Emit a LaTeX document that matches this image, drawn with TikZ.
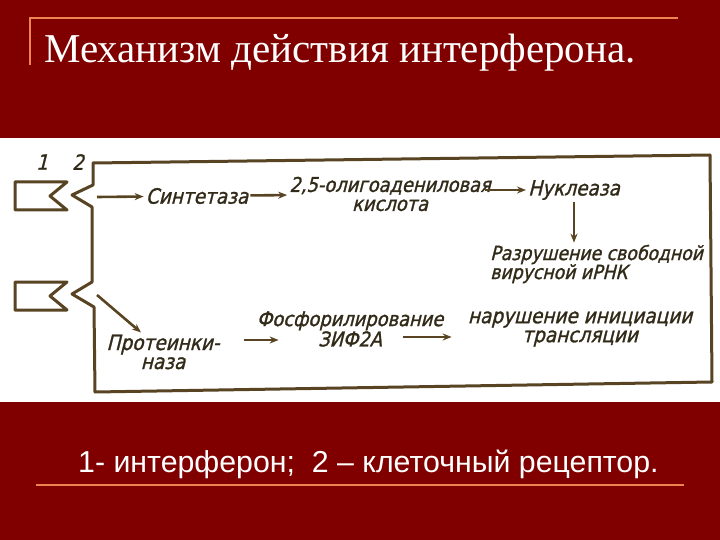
\documentclass[tikz,border=0pt]{standalone}
\usepackage{fontspec}
\setmainfont{Liberation Serif}
\newfontfamily\legendfont{Liberation Sans}
\newfontfamily\schemefont[FakeStretch=0.88,FakeSlant=0.25,FakeBold=1.2]{DejaVu Sans}
\usetikzlibrary{arrows.meta}

\definecolor{slidered}{RGB}{128,0,0}
\definecolor{rulecol}{RGB}{238,132,82}
\definecolor{inkline}{RGB}{88,68,34}
\definecolor{inktext}{RGB}{50,42,24}

\tikzset{
	lbl/.style={font=\schemefont\fontsize{21}{19}\selectfont, text=inktext, inner sep=2pt, align=center},
	arr/.style={-{Stealth[length=9pt,width=7pt]}, line width=2.6pt, draw=inkline},
	membrane/.style={line width=3pt, draw=inkline, line join=round},
}

\begin{document}
\begin{tikzpicture}[x=1pt,y=-1pt]
		\useasboundingbox (0,0) rectangle (720,540);
		\fill[slidered] (0,0) rectangle (720,540);
		\fill[white] (0,138) rectangle (720,402);

		% title and legend
		\draw[rulecol, line width=1.5pt] (30,65) -- (30,18) -- (678,18);
		\node[anchor=base west, inner sep=0pt, text=white, font=\fontsize{41}{46}\selectfont] (title) at (44,63) {Механизм действия интерферона.};
		\node[anchor=base west, inner sep=0pt, text=white, font=\legendfont\fontsize{30.3}{35}\selectfont] (legend) at (78,472) {1- интерферон;\ \ 2 – клеточный рецептор.};
		\draw[rulecol, line width=1.5pt] (36,485) -- (684,485);

		% cell with the two receptors
		\draw[membrane] (93,163) -- (710,155) -- (712,382) -- (95,392) -- (94,307) -- (72,294) -- (92,282) -- (92,207) -- (72,195) -- (93,185) -- cycle;
		% interferon molecules
		\foreach \y in {182,282}
			\draw[membrane] (15,\y) -- (67,\y) -- (50,\y+14) -- (67,\y+28) -- (15,\y+28) -- cycle;

		\node[lbl, font=\schemefont\fontsize{21}{21}\selectfont] (n1) at (42,162) {1};
		\node[lbl, font=\schemefont\fontsize{21}{21}\selectfont] (n2) at (78,162) {2};
		\coordinate (rec1) at (97,197);
		\coordinate (rec2) at (97,295);

		\node[lbl] (synt) at (197,196) {Синтетаза};
		\node[lbl, font=\schemefont\fontsize{20.3}{19}\selectfont] (oligo) at (390,194) {2,5-олигоадениловая\\кислота};
		\node[lbl] (nucl) at (574,190) {Нуклеаза};
		\node[lbl, align=left, anchor=west, font=\schemefont\fontsize{19.6}{19}\selectfont] (destr) at (488,264) {Разрушение свободной\\вирусной иРНК};
		\node[lbl] (prot) at (163,352) {Протеинки-\\наза};
		\node[lbl, font=\schemefont\fontsize{20.3}{19}\selectfont] (phos) at (350,329) {Фосфорилирование\\ЗИФ2А};
		\node[lbl] (trans) at (580,329) {нарушение инициации\\трансляции};

		\draw[arr] (rec1) -- (synt);
		\draw[arr] (synt) -- (oligo);
		\draw[arr] ([xshift=-8pt]oligo.east |- nucl.west) -- (nucl.west);
		\draw[arr] (nucl) -- (nucl |- destr.north);
		\draw[arr] (rec2) -- ([xshift=-22pt]prot.north);
		\draw[arr] ([shift={(22pt,12pt)}]prot.east) -- ([shift={(24pt,-11pt)}]phos.west);
		\draw[arr] ([shift={(-42pt,-8pt)}]phos.east) -- ([shift={(-14pt,-8pt)}]trans.west);
	\end{tikzpicture}
\end{document}
